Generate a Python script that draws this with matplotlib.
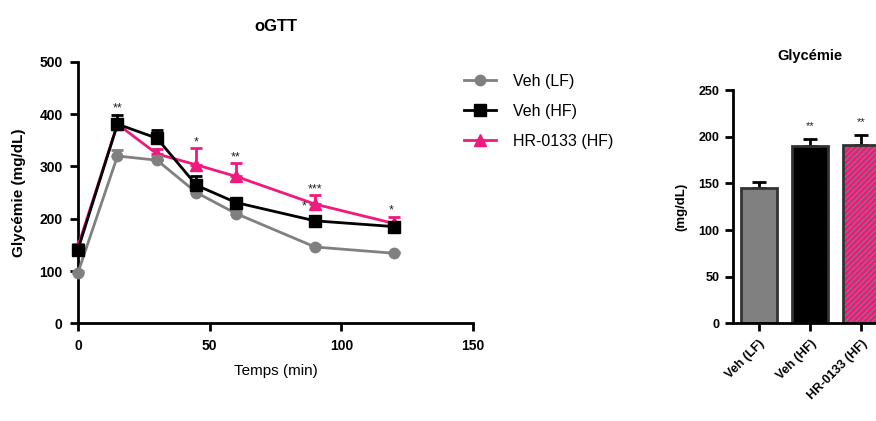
import numpy as np
import matplotlib.pyplot as plt

plt.rcParams['font.family'] = ['Liberation Sans', 'DejaVu Sans']
plt.rcParams['hatch.linewidth'] = 0.8

# oGTT time course
temps = [0, 15, 30, 45, 60, 90, 120]
veh_lf = [97, 320, 312, 250, 210, 146, 134]
veh_lf_err = [3, 12, 8, 5, 4, 3, 3]
veh_hf = [141, 381, 354, 264, 231, 196, 185]
veh_hf_err = [5, 18, 15, 18, 5, 5, 6]
hr_hf = [147, 381, 324, 303, 281, 228, 191]
hr_hf_err = [5, 8, 10, 32, 26, 17, 13]

# significance marks (x, y, text)
stars = [(15, 400, '**'), (45, 335, '*'), (60, 306, '**'), (90, 245, '***'),
         (86, 213, '*'), (119, 204, '*')]

# fasting glycemia bars
groupes = ['Veh (LF)', 'Veh (HF)', 'HR-0133 (HF)']
glycemie = [145, 190, 191]
glycemie_err = [7, 8, 11]
bar_stars = ['', '**', '**']

grey = '#808080'
pink = '#f0197d'

fig = plt.figure(figsize=(8.76, 4.21), dpi=100)

# ---- left panel: oGTT ----
ax = fig.add_axes([0.089, 0.232, 0.451, 0.621])
series = {
    'Veh (LF)': (veh_lf, veh_lf_err, grey, 'o', 7.5, 4),
    'Veh (HF)': (veh_hf, veh_hf_err, 'black', 's', 8, 5),
    'HR-0133 (HF)': (hr_hf, hr_hf_err, pink, '^', 8, 3),
}
handles = []
for lab, (vals, err, col, mk, ms, z) in series.items():
    ax.errorbar(temps, vals, yerr=[np.zeros(len(err)), err], fmt='none', ecolor=col,
                elinewidth=2, capsize=4, capthick=2, clip_on=False, zorder=z)
    ln, = ax.plot(temps, vals, color=col, marker=mk, markersize=ms, linewidth=2,
                  label=lab, clip_on=False, zorder=z)
    handles.append(ln)

for x, y, s in stars:
    ax.text(x, y, s, ha='center', va='bottom', fontsize=9, color='#222222')

ax.set_xlim(0, 150)
ax.set_ylim(0, 500)
ax.set_xticks([0, 50, 100, 150])
ax.set_yticks(range(0, 501, 100))
ax.spines['top'].set_visible(False)
ax.spines['right'].set_visible(False)
for sp in ['left', 'bottom']:
    ax.spines[sp].set_linewidth(2)
ax.tick_params(width=2, length=6, labelsize=10, pad=5)
for lbl in ax.get_xticklabels() + ax.get_yticklabels():
    lbl.set_fontweight('bold')
ax.set_xlabel('Temps (min)', fontsize=11, labelpad=8)
ax.set_ylabel('Glycémie (mg/dL)', fontsize=11, fontweight='bold', labelpad=10)
ax.set_title('oGTT', fontsize=12, fontweight='bold', pad=22)

ax.legend(handles=handles, loc='upper left', bbox_to_anchor=(0.96, 0.98), frameon=False,
          fontsize=11.5, handlelength=2, handletextpad=1.1, labelspacing=0.95,
          borderaxespad=0)

# ---- right panel: fasting glycemia ----
bx = fig.add_axes([0.837, 0.232, 0.1755, 0.554])
pos = np.arange(len(groupes))
# hatch layer for the treated group (hatch colour follows edgecolor)
bx.bar(pos[2], glycemie[2], width=0.7, color=pink, edgecolor=grey, hatch='//////',
       linewidth=0, zorder=2)
bx.bar(pos, glycemie, width=0.7, color=[grey, 'black', 'none'], edgecolor='#333333',
       linewidth=2, zorder=2)
bx.errorbar(pos, glycemie, yerr=[np.zeros(3), glycemie_err], fmt='none',
            ecolor='black', elinewidth=2, capsize=5, capthick=2, zorder=1)
for p, v, e, s in zip(pos, glycemie, glycemie_err, bar_stars):
    if s:
        bx.text(p, v + e + 8, s, ha='center', va='bottom', fontsize=8, color='#222222')

bx.set_xlim(-0.5, 2.5)
bx.set_ylim(0, 250)
bx.set_yticks(range(0, 251, 50))
bx.set_xticks(pos)
bx.set_xticklabels(groupes, rotation=45, ha='right', rotation_mode='anchor',
                   fontsize=9, fontweight='bold')
bx.spines['top'].set_visible(False)
bx.spines['right'].set_visible(False)
for sp in ['left', 'bottom']:
    bx.spines[sp].set_linewidth(2)
bx.tick_params(width=2, length=6, labelsize=9, pad=4)
for lbl in bx.get_yticklabels():
    lbl.set_fontweight('bold')
bx.set_ylabel('(mg/dL)', fontsize=9.5, fontweight='bold', labelpad=8)
bx.set_title('Glycémie', fontsize=10.5, fontweight='bold', pad=22)

fig.savefig('out.png', dpi=100)
